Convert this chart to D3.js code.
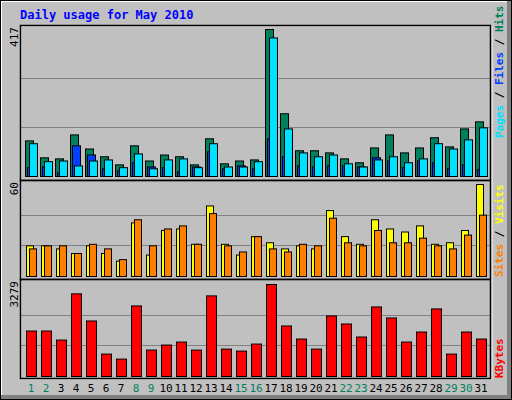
<!DOCTYPE html>
<html><head><meta charset="utf-8">
<script src="https://cdn.jsdelivr.net/npm/d3@7"></script>
<style>body{margin:0;background:#fff}svg{display:block}</style>
</head><body>
<script>
const days = d3.range(1, 32);
const weekends = [1,2,8,9,15,16,22,23,29,30];
const hits  = [101,53,50,118,78,56,33,87,44,61,56,33,107,36,44,47,417,178,73,73,67,50,39,81,118,67,81,110,84,135,155];
const files = [93,42,44,30,44,47,25,64,22,47,50,25,93,27,27,42,393,135,67,56,61,36,27,47,56,39,50,93,78,104,138];
const pages = [25,27,10,87,61,22,16,39,27,25,13,27,70,22,30,22,107,56,30,27,30,30,27,53,44,25,44,39,22,33,19];
const visits= [20,20,18,15,20,15,10,35,14,30,31,21,46,21,14,26,22,18,20,18,43,26,21,37,31,29,33,21,22,30,60];
const sites = [18,20,20,15,21,18,11,37,20,31,33,21,41,20,16,26,18,16,21,20,38,22,20,30,22,22,25,20,18,27,40];
const kbytes= [1621,1621,1299,2945,1979,799,620,2515,942,1121,1228,942,2873,977,906,1156,3279,1800,1335,977,2158,1871,1407,2479,2086,1228,1585,2408,799,1585,1335];
const maxLabels = ["417","60","3279"];

const W=512,H=400;
const svg=d3.select("body").append("svg").attr("width",W).attr("height",H);
svg.append("rect").attr("width",W).attr("height",H).attr("fill","#C0C0C0");
svg.append("rect").attr("x",507).attr("y",1).attr("width",4).attr("height",398).attr("fill","#808080");
svg.append("rect").attr("x",1).attr("y",395).attr("width",510).attr("height",4).attr("fill","#808080");
svg.append("path").attr("d","M1,395V1H507").attr("fill","none").attr("stroke","#fff").attr("stroke-width",2);
svg.append("rect").attr("x",0.5).attr("y",0.5).attr("width",W-1).attr("height",H-1).attr("fill","none").attr("stroke","#000");

svg.append("text").attr("x",20).attr("y",19).text("Daily usage for May 2010")
 .attr("font-family","DejaVu Sans Mono, monospace").attr("font-weight","bold").attr("font-size",12).attr("fill","#0000FF");

const x=d3.scaleBand().domain(days).range([20,485]).paddingInner(0);
const x0=d=>25+(d-1)*15;
const mono="DejaVu Sans Mono, monospace";

const panels=[
 {top:25,bot:180,base:176,maxY:29,max:417},
 {top:180,bot:279,base:276,maxY:184,max:60},
 {top:279,bot:378,base:376,maxY:284,max:3279}
];
panels.forEach((p,i)=>{
  p.y=d3.scaleLinear().domain([0,p.max]).range([p.base,p.maxY]);
  svg.append("rect").attr("x",20).attr("y",p.top).attr("width",471).attr("height",p.bot-p.top)
    .attr("fill","none").attr("stroke","#fff").attr("stroke-width",1).attr("transform","translate(1,1)");
  [1/3,2/3].forEach(f=>svg.append("line").attr("x1",21).attr("x2",490)
    .attr("y1",Math.round(p.y(p.max*f))+0.5).attr("y2",Math.round(p.y(p.max*f))+0.5).attr("stroke","#808080"));
  svg.append("text").attr("transform",`translate(18,${p.top+2}) rotate(-90)`).attr("text-anchor","end")
    .attr("font-family",mono).attr("font-size",11).attr("fill","#000").text(maxLabels[i]);
});

function bars(p,data,off,w,color){
  svg.append("g").selectAll("rect").data(data).join("rect")
   .attr("x",(d,i)=>x0(i+1)+off+0.5).attr("width",w)
   .attr("y",d=>p.y(d)+0.5).attr("height",d=>Math.max(0,p.base-p.y(d)))
   .attr("fill",color).attr("stroke","#000").attr("stroke-width",1);
}
bars(panels[0],hits,0,8,"#00805C");
bars(panels[0],pages,2,8,"#0040FF");
bars(panels[0],files,4,8,"#00E0FF");
bars(panels[1],visits,1,7,"#FFFF00");
bars(panels[1],sites,4,7,"#FF8000");
bars(panels[2],kbytes,1,10,"#FF0000");

panels.forEach(p=>svg.append("rect").attr("x",20.5).attr("y",p.top+0.5).attr("width",470).attr("height",p.bot-p.top)
  .attr("fill","none").attr("stroke","#000").attr("stroke-width",1.5));

svg.append("g").selectAll("text").data(days).join("text")
 .attr("x",d=>x0(d)+6).attr("y",392).attr("text-anchor","middle")
 .attr("font-family",mono).attr("font-size",11)
 .attr("fill",d=>weekends.includes(d)?"#00805C":"#000").text(d=>d);

function vlabel(yBottom,parts){
  const t=svg.append("text").attr("transform",`translate(503,${yBottom}) rotate(-90)`)
   .attr("font-family",mono).attr("font-size",11).attr("font-weight","bold");
  parts.forEach(([s,c])=>t.append("tspan").attr("fill",c).text(s));
}
vlabel(138,[["Pages","#00E0FF"],[" / ","#000"],["Files","#0040FF"],[" / ","#000"],["Hits","#00805C"]]);
vlabel(277,[["Sites","#FF8000"],[" / ","#000"],["Visits","#FFFF00"]]);
vlabel(378,[["KBytes","#FF0000"]]);
</script>
</body></html>
